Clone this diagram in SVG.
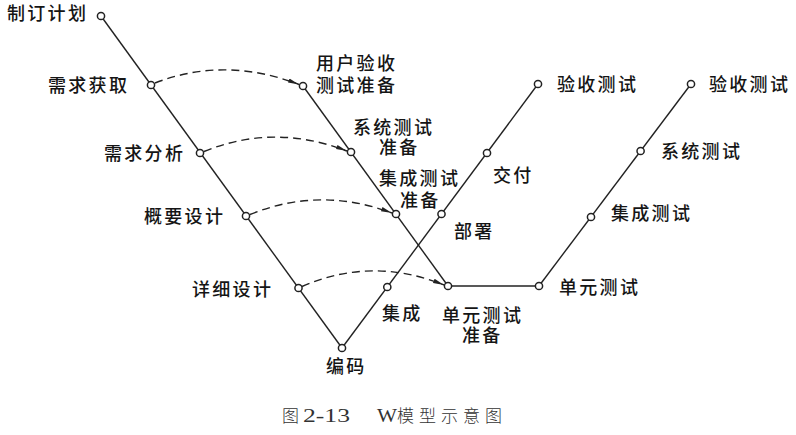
<svg xmlns="http://www.w3.org/2000/svg" width="796" height="435" viewBox="0 0 796 435">
<defs>
<style>
.ln{fill:none;stroke:#222;stroke-width:1.4}
.da{fill:none;stroke:#222;stroke-width:1.4;stroke-dasharray:8 5;marker-end:url(#ah)}
.pt{fill:#fff;stroke:#222;stroke-width:1.5}
.lb{font-family:"Liberation Sans","Noto Sans CJK SC",sans-serif;font-size:18px;font-weight:500;fill:#151515;letter-spacing:2.3px}
.cp{font-family:"Liberation Serif","Noto Sans CJK SC",serif;font-size:18px;fill:#333}
.cpz{font-family:"Liberation Serif","Noto Sans CJK SC",serif;font-size:17px;font-weight:300;fill:#333;letter-spacing:5px}
</style>
<marker id="ah" markerUnits="userSpaceOnUse" markerWidth="11" markerHeight="6" viewBox="0 0 11 6" refX="11" refY="3" orient="auto">
<path d="M0,0.8 L11,3 L0,5.2 Z" fill="#222"/>
</marker>
</defs>
<rect width="796" height="435" fill="#fff"/>
<g id="connectors">
<line class="ln" x1="101" y1="16" x2="342" y2="348"/>
<line class="ln" x1="342" y1="348" x2="538" y2="84"/>
<line class="ln" x1="303" y1="86" x2="448" y2="286"/>
<line class="ln" x1="448" y1="286" x2="539" y2="286"/>
<line class="ln" x1="539" y1="286" x2="691" y2="84"/>
<path class="da" d="M155,83 Q225,56 299,84.5"/>
<path class="da" d="M204,151.5 Q274,123 347,151"/>
<path class="da" d="M250,214.5 Q320,186 392,213"/>
<path class="da" d="M302,286.5 Q372,256 444,285"/>
</g>
<g id="n-plan"><circle class="pt" cx="101" cy="16" r="3.6"/><text class="lb" x="7" y="20">制订计划</text></g>
<g id="n-req-get"><circle class="pt" cx="151" cy="85" r="3.6"/><text class="lb" x="48" y="92">需求获取</text></g>
<g id="n-req-ana"><circle class="pt" cx="200" cy="153" r="3.6"/><text class="lb" x="104" y="160">需求分析</text></g>
<g id="n-arch"><circle class="pt" cx="246" cy="216" r="3.6"/><text class="lb" x="144" y="223">概要设计</text></g>
<g id="n-detail"><circle class="pt" cx="298.5" cy="288" r="3.6"/><text class="lb" x="192" y="296">详细设计</text></g>
<g id="n-code"><circle class="pt" cx="342" cy="348" r="3.6"/><text class="lb" x="326" y="373">编码</text></g>
<g id="n-uat-prep"><circle class="pt" cx="303" cy="86" r="3.6"/><text class="lb"><tspan x="316" y="70">用户验收</tspan><tspan x="316" y="92">测试准备</tspan></text></g>
<g id="n-sys-prep"><circle class="pt" cx="351" cy="152" r="3.6"/><text class="lb"><tspan x="353" y="134">系统测试</tspan><tspan x="379" y="154">准备</tspan></text></g>
<g id="n-int-prep"><circle class="pt" cx="396" cy="214" r="3.6"/><text class="lb"><tspan x="379" y="185">集成测试</tspan><tspan x="400" y="207">准备</tspan></text></g>
<g id="n-unit-prep"><circle class="pt" cx="448" cy="286" r="3.6"/><text class="lb"><tspan x="442" y="322">单元测试</tspan><tspan x="462" y="342">准备</tspan></text></g>
<g id="n-integrate"><circle class="pt" cx="387.3" cy="287" r="3.6"/><text class="lb" x="382" y="320">集成</text></g>
<g id="n-deploy"><circle class="pt" cx="441.5" cy="214" r="3.6"/><text class="lb" x="454" y="238">部署</text></g>
<g id="n-deliver"><circle class="pt" cx="487" cy="153" r="3.6"/><text class="lb" x="493" y="182">交付</text></g>
<g id="n-accept1"><circle class="pt" cx="538" cy="84" r="3.6"/><text class="lb" x="557" y="91">验收测试</text></g>
<g id="n-unit"><circle class="pt" cx="539" cy="286" r="3.6"/><text class="lb" x="559" y="294">单元测试</text></g>
<g id="n-int"><circle class="pt" cx="591" cy="217" r="3.6"/><text class="lb" x="611" y="220">集成测试</text></g>
<g id="n-sys"><circle class="pt" cx="640.6" cy="151" r="3.6"/><text class="lb" x="661" y="158">系统测试</text></g>
<g id="n-accept2"><circle class="pt" cx="691" cy="84" r="3.6"/><text class="lb" x="709" y="91">验收测试</text></g>
<g id="caption">
<text class="cpz" x="282" y="422">图</text>
<text class="cp" x="303" y="422" textLength="47" lengthAdjust="spacingAndGlyphs">2-13</text>
<text class="cp" x="377" y="422" textLength="20" lengthAdjust="spacingAndGlyphs">W</text>
<text class="cpz" x="397" y="422">模型示意图</text>
</g>
</svg>
